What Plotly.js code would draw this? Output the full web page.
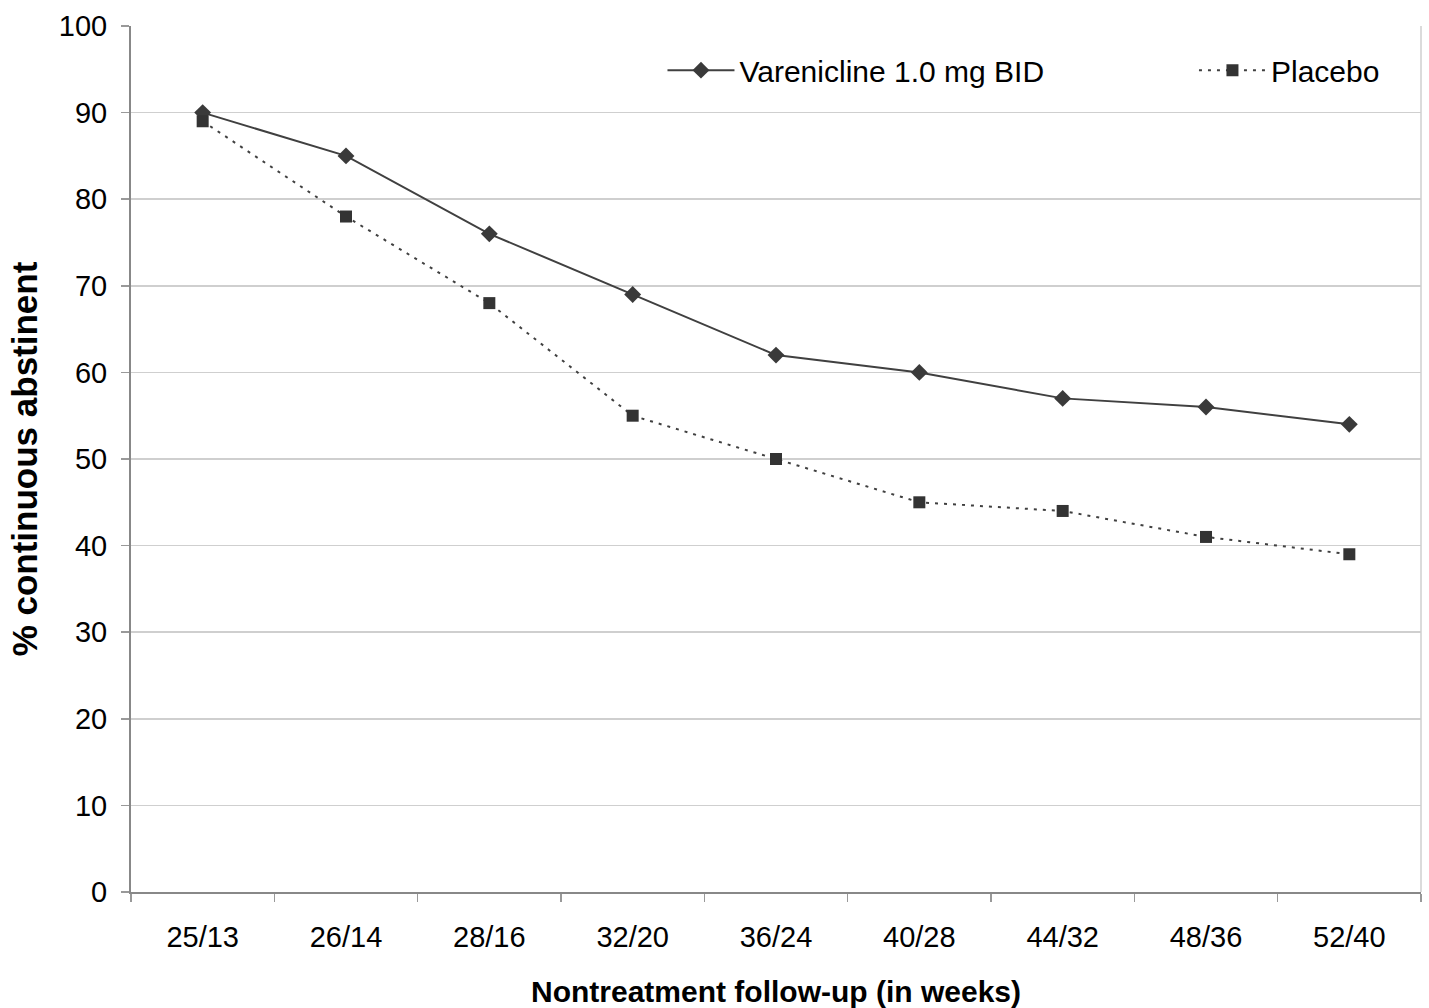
<!DOCTYPE html>
<html>
<head>
<meta charset="utf-8">
<script src="https://cdn.plot.ly/plotly-3.0.1.min.js"></script>
<style>html,body{margin:0;padding:0;background:#fff;}#chart{width:1429px;height:1008px;}</style>
</head>
<body>
<div id="chart"></div>
<script>
const categories = ["25/13","26/14","28/16","32/20","36/24","40/28","44/32","48/36","52/40"];
const vareniclineValues = [90, 85, 76, 69, 62, 60, 57, 56, 54];
const placeboValues = [89, 78, 68, 55, 50, 45, 44, 41, 39];
const yTickValues = [0,10,20,30,40,50,60,70,80,90,100];

const font = "Liberation Sans, Arial, sans-serif";

const traces = [
  {
    x: categories, y: vareniclineValues, name: "Varenicline 1.0 mg BID",
    type: "scatter", mode: "lines+markers", legend: "legend",
    line: {color: "#404040", width: 2},
    marker: {symbol: "diamond", size: 13, color: "#3a3a3a"}
  },
  {
    x: categories, y: placeboValues, name: "Placebo",
    type: "scatter", mode: "lines+markers", legend: "legend2",
    line: {color: "#404040", width: 2, dash: "3px,6px"},
    marker: {symbol: "square", size: 12, color: "#333333"}
  }
];

const legendCommon = {
  orientation: "h", xanchor: "left", yanchor: "middle", y: 0.949,
  font: {family: font, size: 30, color: "#000"},
  bgcolor: "rgba(0,0,0,0)", itemwidth: 67
};

const layout = {
  width: 1429, height: 1008,
  margin: {l: 131, r: 8, t: 26, b: 116},
  paper_bgcolor: "#fff", plot_bgcolor: "#fff",
  font: {family: font, color: "#000", size: 29},
  showlegend: true,
  legend: Object.assign({}, legendCommon, {x: 0.412}),
  legend2: Object.assign({}, legendCommon, {x: 0.824}),
  xaxis: {
    type: "category",
    tickson: "boundaries", ticks: "outside", ticklen: 8, tickcolor: "#999", tickwidth: 1.5,
    showline: true, linecolor: "#888", linewidth: 2,
    showgrid: false, zeroline: false,
    tickfont: {family: font, size: 29, color: "#000"},
    ticklabelstandoff: 18,
    title: {text: "Nontreatment follow-up (in weeks)", font: {family: font, size: 30, color: "#000", weight: "bold"}, standoff: 34},
    range: [-0.5, 8.5]
  },
  yaxis: {
    range: [0, 100], tickvals: yTickValues, ticktext: yTickValues.map(String),
    ticks: "outside", ticklen: 8, tickcolor: "#999", tickwidth: 1.5,
    showline: true, linecolor: "#888", linewidth: 2,
    showgrid: true, gridcolor: "#cfcfcf", gridwidth: 1.5,
    zeroline: false,
    tickfont: {family: font, size: 29, color: "#000"},
    ticklabelstandoff: 8,
    title: {text: "% continuous abstinent", font: {family: font, size: 35, color: "#000", weight: "bold"}, standoff: 11}
  },
  shapes: [
    {type: "line", xref: "paper", yref: "paper", x0: 1, x1: 1, y0: 0, y1: 1, line: {color: "#cfcfcf", width: 1.5}}
  ]
};

Plotly.newPlot("chart", traces, layout, {displayModeBar: false, staticPlot: true});
</script>
</body>
</html>
